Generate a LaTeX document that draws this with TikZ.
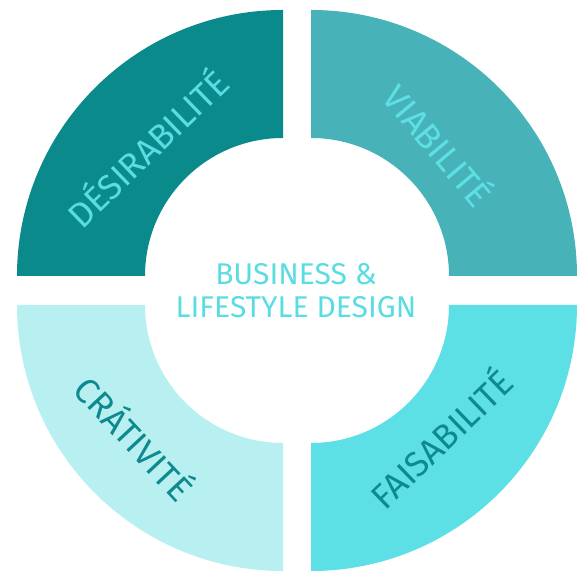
\documentclass[tikz,border=0pt]{standalone}
\usepackage{fontspec}
\setmainfont{Fira Sans}
\definecolor{cA}{HTML}{0B8A8C}
\definecolor{cB}{HTML}{47B3B8}
\definecolor{cC}{HTML}{B8F0F2}
\definecolor{cD}{HTML}{5CE0E5}
\definecolor{tLight}{HTML}{5ADDE2}
\definecolor{tDark}{HTML}{0E8A8E}
\begin{document}
\begin{tikzpicture}[x=1pt,y=1pt,
  lbl/.style={font=\fontsize{35}{35}\selectfont, inner sep=0pt, anchor=center},
  ctr/.style={font=\fontsize{30}{33}\selectfont, align=center, inner sep=0pt, text=tLight}]
\useasboundingbox (0,0) rectangle (582,580);
\fill[white] (0,0) rectangle (582,580);
% quadrants
\fill[cA,shift={(283,304)}] (90:266) arc[start angle=90,end angle=180,radius=266] -- (180:138) arc[start angle=180,end angle=90,radius=138] -- cycle;
\fill[cB,shift={(311,304)}] (0:266) arc[start angle=0,end angle=90,radius=266] -- (90:138) arc[start angle=90,end angle=0,radius=138] -- cycle;
\fill[cC,shift={(283,275)}] (180:266) arc[start angle=180,end angle=270,radius=266] -- (270:138) arc[start angle=270,end angle=180,radius=138] -- cycle;
\fill[cD,shift={(311,275)}] (270:266) arc[start angle=270,end angle=360,radius=266] -- (0:138) arc[start angle=360,end angle=270,radius=138] -- cycle;
% labels
\node[lbl, text=tLight, rotate=44] (des) at (146,433) {DÉSIRABILITÉ};
\node[lbl, text=cD, rotate=-50] (via) at (440,436) {VIABILITÉ};
\node[lbl, text=tDark, rotate=-47] (cre) at (136,143) {CRÁTIVITÉ};
\node[lbl, text=tDark, rotate=44] (fai) at (440,143) {FAISABILITÉ};
\node[ctr] (mid) at (296,289) {BUSINESS \&\\LIFESTYLE DESIGN};
\end{tikzpicture}
\end{document}
